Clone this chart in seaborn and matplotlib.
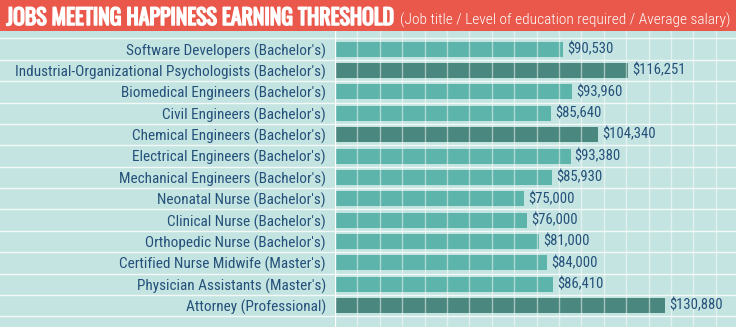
import matplotlib
matplotlib.use("Agg")
import matplotlib.pyplot as plt
import matplotlib.patheffects as pe
from matplotlib.ticker import MultipleLocator
from matplotlib import font_manager
import seaborn as sns
import pandas as pd

jobs = [
    "Software Developers (Bachelor's)",
    "Industrial-Organizational Psychologists (Bachelor's)",
    "Biomedical Engineers (Bachelor's)",
    "Civil Engineers (Bachelor's)",
    "Chemical Engineers (Bachelor's)",
    "Electrical Engineers (Bachelor's)",
    "Mechanical Engineers (Bachelor's)",
    "Neonatal Nurse (Bachelor's)",
    "Clinical Nurse (Bachelor's)",
    "Orthopedic Nurse (Bachelor's)",
    "Certified Nurse Midwife (Master's)",
    "Physician Assistants (Master's)",
    "Attorney (Professional)",
]
salaries = [90530, 116251, 93960, 85640, 104340, 93380, 85930,
            75000, 76000, 81000, 84000, 86410, 130880]
highlight = [False, True, False, False, True, False, False,
             False, False, False, False, False, True]
title_main = "JOBS MEETING HAPPINESS EARNING THRESHOLD"
title_sub = "(Job title / Level of education required / Average salary)"

names = {f.name for f in font_manager.fontManager.ttflist}


def pick(cands):
    return next((n for n in cands if n in names), "DejaVu Sans")


narrow = pick(["Roboto Condensed", "Archivo Narrow", "Asap Condensed",
               "Barlow Condensed", "Liberation Sans"])
heavy = pick(["Oswald", "Roboto Condensed", "Archivo Narrow", "Liberation Sans"])

BG = "#c4e4e1"
LIGHT = "#5db4aa"
DARK = "#4a887f"
TXT = "#24507a"
RED = "#e9584a"

sns.set_theme(style="white")
plt.rcParams["font.family"] = [narrow, "DejaVu Sans"]

df = pd.DataFrame({"job": jobs, "salary": salaries,
                   "group": ["dark" if h else "light" for h in highlight]})

W, H = 736, 327
fig = plt.figure(figsize=(W / 100, H / 100), dpi=100)
fig.patch.set_facecolor(BG)
renderer = fig.canvas.get_renderer()


def fit(t, target_px):
    w = t.get_window_extent(renderer).width
    t.set_fontsize(t.get_fontsize() * target_px / w)


ax = fig.add_axes([335 / W, 0, 1 - 335 / W, (H - 31) / H])
ax.set_facecolor(BG)
sns.barplot(data=df, y="job", x="salary", hue="group",
            palette={"light": LIGHT, "dark": DARK}, dodge=False,
            saturation=1, width=0.7, legend=False, ax=ax, zorder=2)
for p in ax.patches:
    p.set_edgecolor("none")

ax.set_xlim(0, 159000)
ax.set_ylim(13.0, -0.85)
ax.xaxis.set_major_locator(MultipleLocator(8880))
ax.grid(axis="x", color="white", linewidth=1.0, alpha=0.5, zorder=3)
ax.set_axisbelow(False)
for i in range(len(jobs) + 1):
    ax.axhline(i - 0.5, color="white", linewidth=1.0, alpha=0.8, zorder=1)
ax.axvline(0, color="white", linewidth=1.6, zorder=4)
for s in ax.spines.values():
    s.set_visible(False)
ax.set_xlabel("")
ax.set_ylabel("")
ax.tick_params(axis="x", length=0, labelbottom=False)
ax.tick_params(axis="y", length=0, pad=6.5, labelsize=12, labelcolor=TXT)

# size tick labels so the longest one spans the reference width
ticklabels = ax.get_yticklabels()
longest = max(ticklabels, key=lambda t: len(t.get_text()))
fit(longest, 311)
lab_fs = longest.get_fontsize()
ax.tick_params(axis="y", labelsize=lab_fs)

vals = []
for i, v in enumerate(salaries):
    vals.append(ax.annotate(f"${v:,}", (v, i), xytext=(3, 0),
                            textcoords="offset points", va="center",
                            ha="left", fontsize=12, color=TXT, zorder=5))
fit(vals[1], 53)
for t in vals:
    t.set_fontsize(vals[1].get_fontsize())

# separators in label area
lab = fig.add_axes([0, 0, 335 / W, (H - 31) / H], sharey=ax)
lab.set_facecolor("none")
lab.set_xlim(0, 1)
for i in range(len(jobs) + 1):
    lab.axhline(i - 0.5, color="white", linewidth=1.0, alpha=0.8)
lab.axis("off")

# title bar
bar = fig.add_axes([0, (H - 31) / H, 1, 31 / H])
bar.set_facecolor(RED)
bar.set_xticks([])
bar.set_yticks([])
for s in bar.spines.values():
    s.set_visible(False)
t1 = bar.text(6.5 / W, 6 / 31, title_main, transform=bar.transAxes, ha="left",
              va="baseline", color="white", fontsize=18, fontweight="bold",
              family=[heavy, "DejaVu Sans"])
fit(t1, 389)
if t1.get_fontsize() > 19:
    t1.set_fontsize(19)
t1.set_path_effects([pe.withStroke(linewidth=1.1, foreground="white")])
t2 = bar.text(400 / W, 6 / 31, title_sub, transform=bar.transAxes,
              ha="left", va="baseline", color="white", fontsize=13,
              fontweight="light", family=[narrow, "DejaVu Sans"])
fit(t2, 330)

fig.savefig("out.png", dpi=100, facecolor=BG)
